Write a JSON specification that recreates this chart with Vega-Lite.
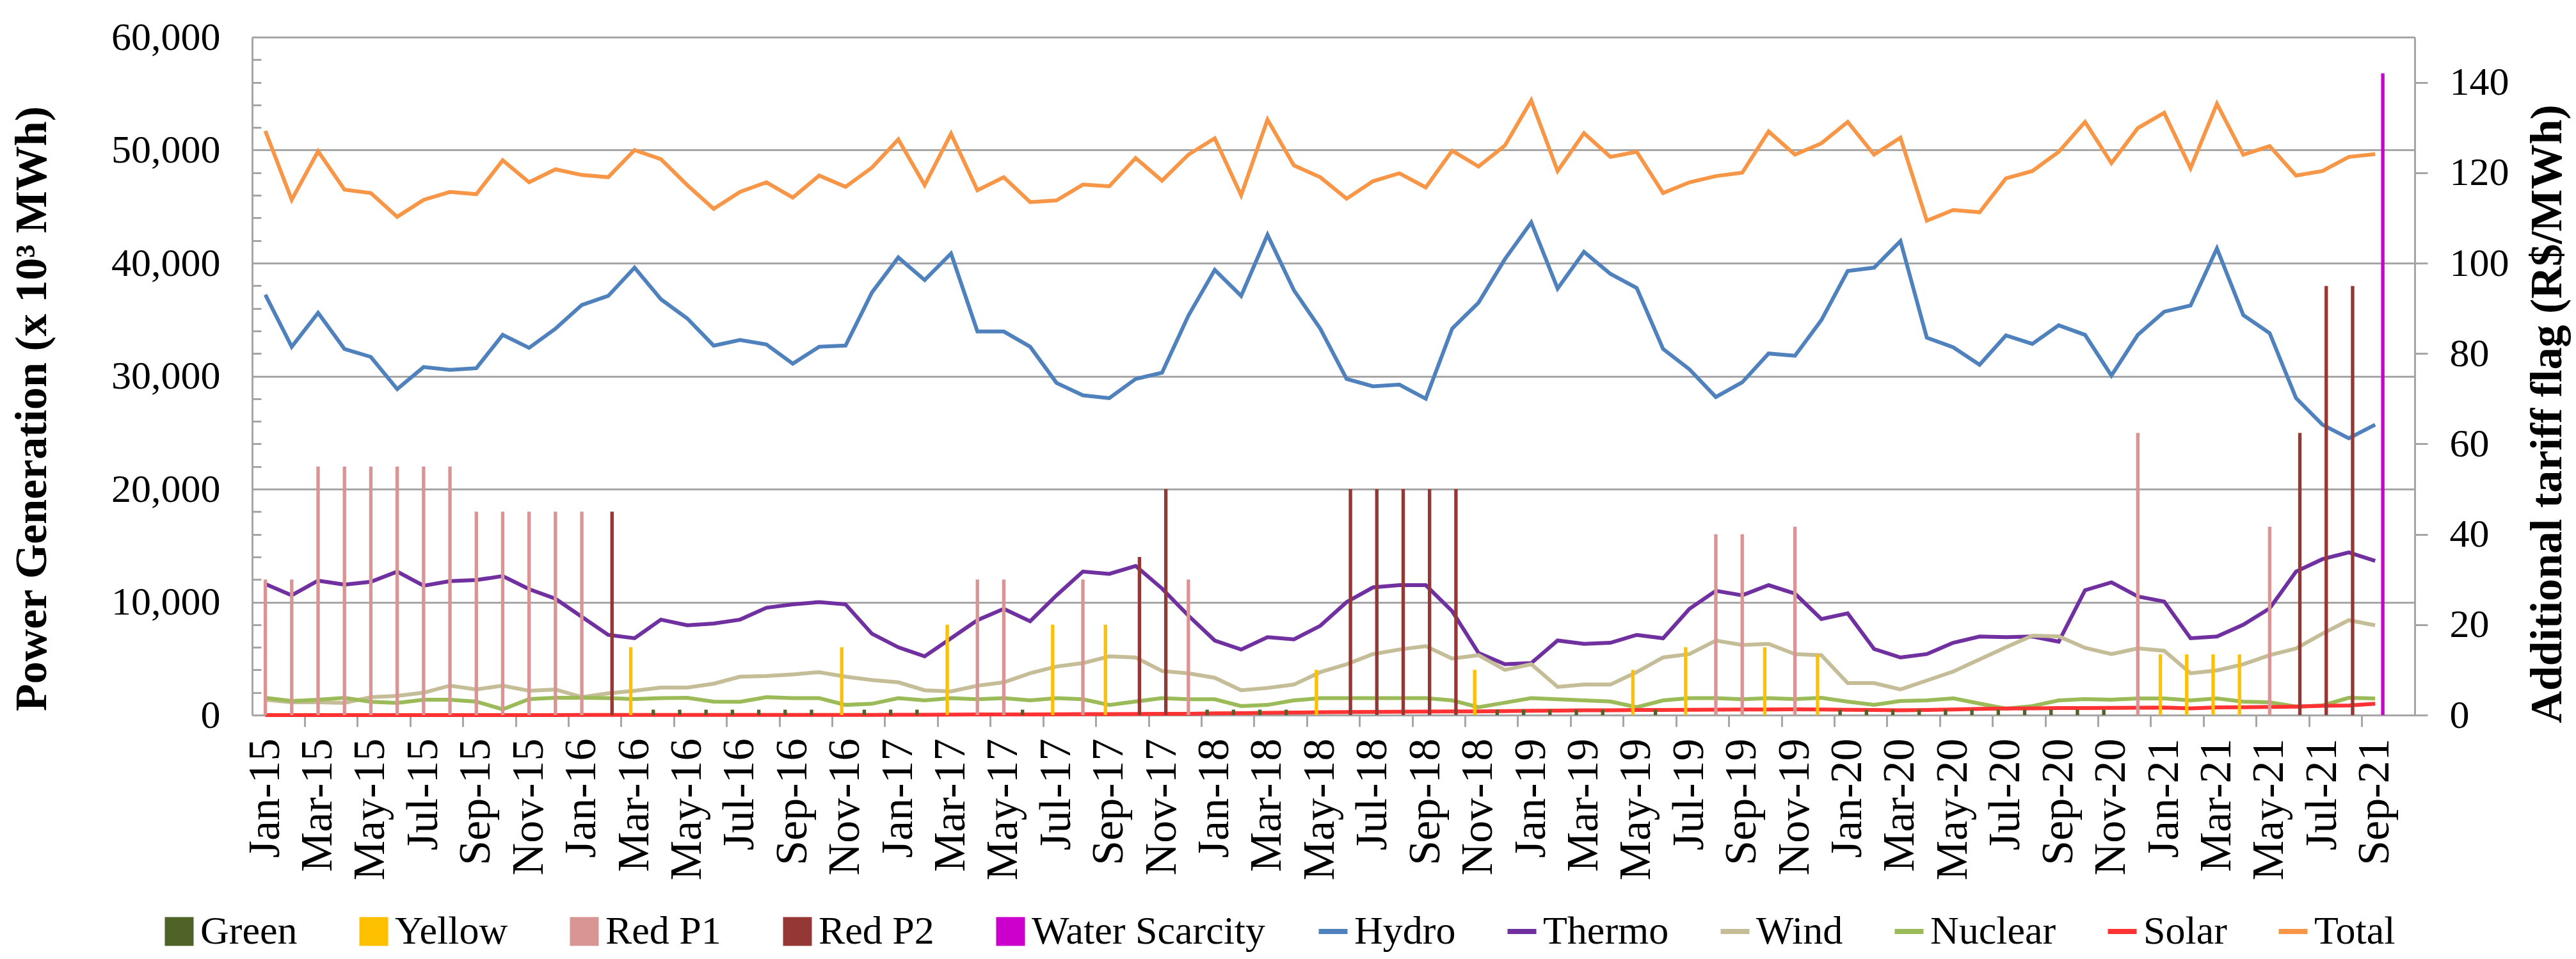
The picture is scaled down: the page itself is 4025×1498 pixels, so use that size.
{
  "$schema": "https://vega.github.io/schema/vega-lite/v6.json",
  "width": 3379,
  "height": 1059,
  "autosize": {"type": "none"},
  "padding": {"left": 394, "top": 58, "right": 252, "bottom": 381},
  "background": "white",
  "config": {
    "font": "Liberation Serif",
    "view": {"stroke": null},
    "axis": {"labelColor": "black", "titleColor": "black", "labelFont": "Liberation Serif", "titleFont": "Liberation Serif", "labelBound": false, "labelOverlap": false},
    "legend": {"labelFont": "Liberation Serif", "labelColor": "black"}
  },
  "datasets": {
    "m": [
      {"month": "Jan-15", "Hydro": 37200, "Thermo": 11600, "Wind": 1360, "Nuclear": 1530, "Solar": 5, "Total": 51700, "flag": "Red P1", "tariff": 30},
      {"month": "Feb-15", "Hydro": 32600, "Thermo": 10600, "Wind": 1130, "Nuclear": 1250, "Solar": 5, "Total": 45600, "flag": "Red P1", "tariff": 30},
      {"month": "Mar-15", "Hydro": 35600, "Thermo": 11900, "Wind": 1130, "Nuclear": 1360, "Solar": 5, "Total": 49900, "flag": "Red P1", "tariff": 55},
      {"month": "Apr-15", "Hydro": 32400, "Thermo": 11550, "Wind": 1080, "Nuclear": 1530, "Solar": 5, "Total": 46500, "flag": "Red P1", "tariff": 55},
      {"month": "May-15", "Hydro": 31700, "Thermo": 11800, "Wind": 1590, "Nuclear": 1180, "Solar": 5, "Total": 46200, "flag": "Red P1", "tariff": 55},
      {"month": "Jun-15", "Hydro": 28850, "Thermo": 12700, "Wind": 1700, "Nuclear": 1080, "Solar": 5, "Total": 44100, "flag": "Red P1", "tariff": 55},
      {"month": "Jul-15", "Hydro": 30800, "Thermo": 11450, "Wind": 1980, "Nuclear": 1360, "Solar": 5, "Total": 45600, "flag": "Red P1", "tariff": 55},
      {"month": "Aug-15", "Hydro": 30550, "Thermo": 11850, "Wind": 2610, "Nuclear": 1360, "Solar": 5, "Total": 46300, "flag": "Red P1", "tariff": 55},
      {"month": "Sep-15", "Hydro": 30700, "Thermo": 11950, "Wind": 2270, "Nuclear": 1190, "Solar": 5, "Total": 46100, "flag": "Red P1", "tariff": 45},
      {"month": "Oct-15", "Hydro": 33650, "Thermo": 12300, "Wind": 2610, "Nuclear": 510, "Solar": 5, "Total": 49100, "flag": "Red P1", "tariff": 45},
      {"month": "Nov-15", "Hydro": 32500, "Thermo": 11150, "Wind": 2150, "Nuclear": 1420, "Solar": 5, "Total": 47150, "flag": "Red P1", "tariff": 45},
      {"month": "Dec-15", "Hydro": 34200, "Thermo": 10300, "Wind": 2270, "Nuclear": 1530, "Solar": 5, "Total": 48300, "flag": "Red P1", "tariff": 45},
      {"month": "Jan-16", "Hydro": 36300, "Thermo": 8700, "Wind": 1590, "Nuclear": 1530, "Solar": 10, "Total": 47800, "flag": "Red P1", "tariff": 45},
      {"month": "Feb-16", "Hydro": 37100, "Thermo": 7100, "Wind": 1930, "Nuclear": 1500, "Solar": 10, "Total": 47600, "flag": "Red P2", "tariff": 45},
      {"month": "Mar-16", "Hydro": 39600, "Thermo": 6800, "Wind": 2150, "Nuclear": 1420, "Solar": 10, "Total": 50000, "flag": "Yellow", "tariff": 15},
      {"month": "Apr-16", "Hydro": 36800, "Thermo": 8450, "Wind": 2440, "Nuclear": 1500, "Solar": 10, "Total": 49200, "flag": "Green", "tariff": 1.2},
      {"month": "May-16", "Hydro": 35100, "Thermo": 7950, "Wind": 2440, "Nuclear": 1530, "Solar": 10, "Total": 46900, "flag": "Green", "tariff": 1.2},
      {"month": "Jun-16", "Hydro": 32700, "Thermo": 8100, "Wind": 2780, "Nuclear": 1190, "Solar": 15, "Total": 44800, "flag": "Green", "tariff": 1.2},
      {"month": "Jul-16", "Hydro": 33200, "Thermo": 8450, "Wind": 3400, "Nuclear": 1180, "Solar": 15, "Total": 46300, "flag": "Green", "tariff": 1.2},
      {"month": "Aug-16", "Hydro": 32800, "Thermo": 9500, "Wind": 3450, "Nuclear": 1590, "Solar": 15, "Total": 47150, "flag": "Green", "tariff": 1.2},
      {"month": "Sep-16", "Hydro": 31100, "Thermo": 9800, "Wind": 3600, "Nuclear": 1500, "Solar": 15, "Total": 45800, "flag": "Green", "tariff": 1.2},
      {"month": "Oct-16", "Hydro": 32600, "Thermo": 10000, "Wind": 3800, "Nuclear": 1500, "Solar": 20, "Total": 47750, "flag": "Green", "tariff": 1.2},
      {"month": "Nov-16", "Hydro": 32700, "Thermo": 9800, "Wind": 3400, "Nuclear": 900, "Solar": 20, "Total": 46750, "flag": "Yellow", "tariff": 15},
      {"month": "Dec-16", "Hydro": 37400, "Thermo": 7200, "Wind": 3100, "Nuclear": 1000, "Solar": 20, "Total": 48450, "flag": "Green", "tariff": 1.2},
      {"month": "Jan-17", "Hydro": 40500, "Thermo": 6000, "Wind": 2900, "Nuclear": 1500, "Solar": 30, "Total": 50950, "flag": "Green", "tariff": 1.2},
      {"month": "Feb-17", "Hydro": 38500, "Thermo": 5200, "Wind": 2200, "Nuclear": 1300, "Solar": 35, "Total": 46900, "flag": "Green", "tariff": 1.2},
      {"month": "Mar-17", "Hydro": 40850, "Thermo": 6800, "Wind": 2100, "Nuclear": 1500, "Solar": 40, "Total": 51450, "flag": "Yellow", "tariff": 20},
      {"month": "Apr-17", "Hydro": 33950, "Thermo": 8400, "Wind": 2600, "Nuclear": 1400, "Solar": 50, "Total": 46450, "flag": "Red P1", "tariff": 30},
      {"month": "May-17", "Hydro": 33950, "Thermo": 9400, "Wind": 2900, "Nuclear": 1500, "Solar": 50, "Total": 47600, "flag": "Red P1", "tariff": 30},
      {"month": "Jun-17", "Hydro": 32600, "Thermo": 8300, "Wind": 3700, "Nuclear": 1300, "Solar": 60, "Total": 45400, "flag": "Green", "tariff": 1.2},
      {"month": "Jul-17", "Hydro": 29400, "Thermo": 10600, "Wind": 4300, "Nuclear": 1500, "Solar": 70, "Total": 45550, "flag": "Yellow", "tariff": 20},
      {"month": "Aug-17", "Hydro": 28300, "Thermo": 12700, "Wind": 4600, "Nuclear": 1400, "Solar": 80, "Total": 46950, "flag": "Red P1", "tariff": 30},
      {"month": "Sep-17", "Hydro": 28050, "Thermo": 12500, "Wind": 5200, "Nuclear": 900, "Solar": 90, "Total": 46800, "flag": "Yellow", "tariff": 20},
      {"month": "Oct-17", "Hydro": 29750, "Thermo": 13200, "Wind": 5100, "Nuclear": 1200, "Solar": 100, "Total": 49300, "flag": "Red P2", "tariff": 35},
      {"month": "Nov-17", "Hydro": 30300, "Thermo": 11200, "Wind": 3900, "Nuclear": 1500, "Solar": 110, "Total": 47300, "flag": "Red P2", "tariff": 50},
      {"month": "Dec-17", "Hydro": 35350, "Thermo": 8800, "Wind": 3700, "Nuclear": 1400, "Solar": 120, "Total": 49600, "flag": "Red P1", "tariff": 30},
      {"month": "Jan-18", "Hydro": 39400, "Thermo": 6600, "Wind": 3300, "Nuclear": 1400, "Solar": 150, "Total": 51050, "flag": "Green", "tariff": 1.2},
      {"month": "Feb-18", "Hydro": 37100, "Thermo": 5800, "Wind": 2200, "Nuclear": 800, "Solar": 170, "Total": 46000, "flag": "Green", "tariff": 1.2},
      {"month": "Mar-18", "Hydro": 42500, "Thermo": 6900, "Wind": 2400, "Nuclear": 900, "Solar": 200, "Total": 52700, "flag": "Green", "tariff": 1.2},
      {"month": "Apr-18", "Hydro": 37600, "Thermo": 6700, "Wind": 2700, "Nuclear": 1300, "Solar": 220, "Total": 48650, "flag": "Green", "tariff": 1.2},
      {"month": "May-18", "Hydro": 34200, "Thermo": 7900, "Wind": 3800, "Nuclear": 1500, "Solar": 250, "Total": 47600, "flag": "Yellow", "tariff": 10},
      {"month": "Jun-18", "Hydro": 29750, "Thermo": 10000, "Wind": 4500, "Nuclear": 1500, "Solar": 270, "Total": 45700, "flag": "Red P2", "tariff": 50},
      {"month": "Jul-18", "Hydro": 29100, "Thermo": 11300, "Wind": 5400, "Nuclear": 1500, "Solar": 290, "Total": 47250, "flag": "Red P2", "tariff": 50},
      {"month": "Aug-18", "Hydro": 29250, "Thermo": 11500, "Wind": 5800, "Nuclear": 1500, "Solar": 300, "Total": 47950, "flag": "Red P2", "tariff": 50},
      {"month": "Sep-18", "Hydro": 28000, "Thermo": 11500, "Wind": 6100, "Nuclear": 1500, "Solar": 310, "Total": 46700, "flag": "Red P2", "tariff": 50},
      {"month": "Oct-18", "Hydro": 34200, "Thermo": 9200, "Wind": 5000, "Nuclear": 1300, "Solar": 320, "Total": 49950, "flag": "Red P2", "tariff": 50},
      {"month": "Nov-18", "Hydro": 36500, "Thermo": 5500, "Wind": 5300, "Nuclear": 700, "Solar": 330, "Total": 48550, "flag": "Yellow", "tariff": 10},
      {"month": "Dec-18", "Hydro": 40350, "Thermo": 4500, "Wind": 4000, "Nuclear": 1100, "Solar": 350, "Total": 50400, "flag": "Green", "tariff": 1.2},
      {"month": "Jan-19", "Hydro": 43600, "Thermo": 4600, "Wind": 4500, "Nuclear": 1500, "Solar": 380, "Total": 54400, "flag": "Green", "tariff": 1.2},
      {"month": "Feb-19", "Hydro": 37750, "Thermo": 6600, "Wind": 2500, "Nuclear": 1400, "Solar": 400, "Total": 48150, "flag": "Green", "tariff": 1.2},
      {"month": "Mar-19", "Hydro": 41000, "Thermo": 6300, "Wind": 2700, "Nuclear": 1300, "Solar": 420, "Total": 51500, "flag": "Green", "tariff": 1.2},
      {"month": "Apr-19", "Hydro": 39050, "Thermo": 6400, "Wind": 2700, "Nuclear": 1200, "Solar": 430, "Total": 49400, "flag": "Green", "tariff": 1.2},
      {"month": "May-19", "Hydro": 37800, "Thermo": 7100, "Wind": 3800, "Nuclear": 700, "Solar": 450, "Total": 49850, "flag": "Yellow", "tariff": 10},
      {"month": "Jun-19", "Hydro": 32400, "Thermo": 6800, "Wind": 5100, "Nuclear": 1300, "Solar": 460, "Total": 46200, "flag": "Green", "tariff": 1.2},
      {"month": "Jul-19", "Hydro": 30600, "Thermo": 9400, "Wind": 5400, "Nuclear": 1500, "Solar": 470, "Total": 47150, "flag": "Yellow", "tariff": 15},
      {"month": "Aug-19", "Hydro": 28150, "Thermo": 11000, "Wind": 6600, "Nuclear": 1500, "Solar": 480, "Total": 47700, "flag": "Red P1", "tariff": 40},
      {"month": "Sep-19", "Hydro": 29450, "Thermo": 10600, "Wind": 6200, "Nuclear": 1400, "Solar": 490, "Total": 48000, "flag": "Red P1", "tariff": 40},
      {"month": "Oct-19", "Hydro": 32000, "Thermo": 11500, "Wind": 6300, "Nuclear": 1500, "Solar": 500, "Total": 51650, "flag": "Yellow", "tariff": 15},
      {"month": "Nov-19", "Hydro": 31800, "Thermo": 10750, "Wind": 5400, "Nuclear": 1420, "Solar": 510, "Total": 49600, "flag": "Red P1", "tariff": 41.69},
      {"month": "Dec-19", "Hydro": 34950, "Thermo": 8500, "Wind": 5300, "Nuclear": 1530, "Solar": 500, "Total": 50600, "flag": "Yellow", "tariff": 13.43},
      {"month": "Jan-20", "Hydro": 39300, "Thermo": 9000, "Wind": 2830, "Nuclear": 1190, "Solar": 470, "Total": 52500, "flag": "Green", "tariff": 1.2},
      {"month": "Feb-20", "Hydro": 39600, "Thermo": 5850, "Wind": 2830, "Nuclear": 910, "Solar": 450, "Total": 49600, "flag": "Green", "tariff": 1.2},
      {"month": "Mar-20", "Hydro": 41950, "Thermo": 5100, "Wind": 2270, "Nuclear": 1250, "Solar": 420, "Total": 51100, "flag": "Green", "tariff": 1.2},
      {"month": "Apr-20", "Hydro": 33400, "Thermo": 5400, "Wind": 3060, "Nuclear": 1300, "Solar": 450, "Total": 43750, "flag": "Green", "tariff": 1.2},
      {"month": "May-20", "Hydro": 32550, "Thermo": 6400, "Wind": 3850, "Nuclear": 1480, "Solar": 500, "Total": 44700, "flag": "Green", "tariff": 1.2},
      {"month": "Jun-20", "Hydro": 31000, "Thermo": 6950, "Wind": 4930, "Nuclear": 1020, "Solar": 550, "Total": 44500, "flag": "Green", "tariff": 1.2},
      {"month": "Jul-20", "Hydro": 33600, "Thermo": 6900, "Wind": 6000, "Nuclear": 570, "Solar": 580, "Total": 47500, "flag": "Green", "tariff": 1.2},
      {"month": "Aug-20", "Hydro": 32850, "Thermo": 6950, "Wind": 7030, "Nuclear": 800, "Solar": 600, "Total": 48150, "flag": "Green", "tariff": 1.2},
      {"month": "Sep-20", "Hydro": 34500, "Thermo": 6500, "Wind": 6970, "Nuclear": 1300, "Solar": 620, "Total": 49850, "flag": "Green", "tariff": 1.2},
      {"month": "Oct-20", "Hydro": 33650, "Thermo": 11050, "Wind": 5950, "Nuclear": 1420, "Solar": 630, "Total": 52500, "flag": "Green", "tariff": 1.2},
      {"month": "Nov-20", "Hydro": 30050, "Thermo": 11750, "Wind": 5400, "Nuclear": 1360, "Solar": 640, "Total": 48850, "flag": "Green", "tariff": 1.2},
      {"month": "Dec-20", "Hydro": 33650, "Thermo": 10500, "Wind": 5900, "Nuclear": 1470, "Solar": 650, "Total": 51950, "flag": "Red P1", "tariff": 62.43},
      {"month": "Jan-21", "Hydro": 35700, "Thermo": 10050, "Wind": 5700, "Nuclear": 1470, "Solar": 660, "Total": 53300, "flag": "Yellow", "tariff": 13.43},
      {"month": "Feb-21", "Hydro": 36250, "Thermo": 6800, "Wind": 3700, "Nuclear": 1300, "Solar": 600, "Total": 48400, "flag": "Yellow", "tariff": 13.43},
      {"month": "Mar-21", "Hydro": 41300, "Thermo": 6950, "Wind": 3950, "Nuclear": 1470, "Solar": 680, "Total": 54100, "flag": "Yellow", "tariff": 13.43},
      {"month": "Apr-21", "Hydro": 35400, "Thermo": 8000, "Wind": 4500, "Nuclear": 1190, "Solar": 700, "Total": 49600, "flag": "Yellow", "tariff": 13.43},
      {"month": "May-21", "Hydro": 33800, "Thermo": 9450, "Wind": 5300, "Nuclear": 1130, "Solar": 720, "Total": 50350, "flag": "Red P1", "tariff": 41.69},
      {"month": "Jun-21", "Hydro": 28050, "Thermo": 12700, "Wind": 5900, "Nuclear": 750, "Solar": 750, "Total": 47750, "flag": "Red P2", "tariff": 62.43},
      {"month": "Jul-21", "Hydro": 25700, "Thermo": 13800, "Wind": 7200, "Nuclear": 850, "Solar": 820, "Total": 48150, "flag": "Red P2", "tariff": 94.92},
      {"month": "Aug-21", "Hydro": 24500, "Thermo": 14400, "Wind": 8400, "Nuclear": 1530, "Solar": 850, "Total": 49400, "flag": "Red P2", "tariff": 94.92},
      {"month": "Sep-21", "Hydro": 25700, "Thermo": 13650, "Wind": 7950, "Nuclear": 1470, "Solar": 1000, "Total": 49650, "flag": "Water Scarcity", "tariff": 142}
    ]
  },
  "layer": [
    {
      "data": {"name": "m"},
      "transform": [{"fold": ["Hydro", "Thermo", "Wind", "Nuclear", "Solar", "Total"], "as": ["source", "gen"]}],
      "mark": {"type": "line", "strokeWidth": 6},
      "encoding": {
        "x": {
          "field": "month", "type": "nominal", "sort": null,
          "scale": {"type": "band", "paddingInner": 0, "paddingOuter": 0,
            "domain": ["Jan-15","Feb-15","Mar-15","Apr-15","May-15","Jun-15","Jul-15","Aug-15","Sep-15","Oct-15","Nov-15","Dec-15","Jan-16","Feb-16","Mar-16","Apr-16","May-16","Jun-16","Jul-16","Aug-16","Sep-16","Oct-16","Nov-16","Dec-16","Jan-17","Feb-17","Mar-17","Apr-17","May-17","Jun-17","Jul-17","Aug-17","Sep-17","Oct-17","Nov-17","Dec-17","Jan-18","Feb-18","Mar-18","Apr-18","May-18","Jun-18","Jul-18","Aug-18","Sep-18","Oct-18","Nov-18","Dec-18","Jan-19","Feb-19","Mar-19","Apr-19","May-19","Jun-19","Jul-19","Aug-19","Sep-19","Oct-19","Nov-19","Dec-19","Jan-20","Feb-20","Mar-20","Apr-20","May-20","Jun-20","Jul-20","Aug-20","Sep-20","Oct-20","Nov-20","Dec-20","Jan-21","Feb-21","Mar-21","Apr-21","May-21","Jun-21","Jul-21","Aug-21","Sep-21","Oct-21"]},
          "axis": {
            "orient": "bottom",
            "title": null,
            "labelExpr": "test(/^(Jan|Mar|May|Jul|Sep|Nov)/, datum.value) ? datum.value : ''",
            "ticks": false,
            "domain": false,
            "labelAngle": 270,
            "labelFontSize": 70,
            "labelPadding": 36,
            "labelLimit": 1000,
            "labelOverlap": false,
            "labelBound": false,
            "labelFlush": false,
            "labelSeparation": 0,
            "grid": false
          }
        },
        "y": {
          "field": "gen", "type": "quantitative",
          "scale": {"domain": [0, 60000], "nice": false},
          "axis": {
            "orient": "left",
            "values": [0,2000,4000,6000,8000,10000,12000,14000,16000,18000,20000,22000,24000,26000,28000,30000,32000,34000,36000,38000,40000,42000,44000,46000,48000,50000,52000,54000,56000,58000,60000],
            "labelExpr": "datum.value % 10000 === 0 ? format(datum.value, ',') : ''",
            "grid": true,
            "gridColor": "#A6A6A6",
            "gridWidth": 3,
            "gridOpacity": {"condition": {"test": "datum.value % 10000 === 0", "value": 1}, "value": 0},
            "tickSize": -14,
            "tickWidth": 3,
            "tickColor": "#A6A6A6",
            "domainColor": "#A6A6A6",
            "domainWidth": 3,
            "labelFontSize": 62,
            "labelPadding": 64,
            "title": "Power Generation (x 10³ MWh)",
            "titleFontSize": 70,
            "titleFontWeight": "bold",
            "titleAngle": 270,
            "titleX": -344,
            "titleY": 580,
            "titleAlign": "center",
            "titleBaseline": "middle"
          }
        },
        "color": {
          "field": "source", "type": "nominal",
          "scale": {"domain": ["Hydro", "Thermo", "Wind", "Nuclear", "Solar", "Total"], "range": ["#4F81BD", "#7030A0", "#C4BD97", "#9BBB59", "#FF3333", "#F79646"]},
          "legend": {"orient": "none", "legendX": 1658, "legendY": 1366, "direction": "horizontal", "title": null, "labelFontSize": 62, "labelLimit": 1000, "symbolType": "stroke", "symbolSize": 2025, "symbolStrokeWidth": 8, "labelOffset": 2, "columnPadding": 64}
        }
      }
    },
    {
      "data": {"name": "m"},
      "mark": {"type": "bar"},
      "encoding": {
        "x": {
          "field": "month", "type": "nominal", "sort": null,
          "axis": {
            "orient": "bottom",
            "title": null,
            "values": ["Jan-15","Mar-15","May-15","Jul-15","Sep-15","Nov-15","Jan-16","Mar-16","May-16","Jul-16","Sep-16","Nov-16","Jan-17","Mar-17","May-17","Jul-17","Sep-17","Nov-17","Jan-18","Mar-18","May-18","Jul-18","Sep-18","Nov-18","Jan-19","Mar-19","May-19","Jul-19","Sep-19","Nov-19","Jan-20","Mar-20","May-20","Jul-20","Sep-20","Nov-20","Jan-21","Mar-21","May-21","Jul-21","Sep-21"],
            "bandPosition": 0,
            "labels": false,
            "tickSize": 18,
            "tickWidth": 3,
            "tickColor": "#A6A6A6",
            "domainColor": "#A6A6A6",
            "domainWidth": 3,
            "grid": false
          }
        },
        "xOffset": {"field": "flag", "type": "nominal", "scale": {"domain": ["Green", "Yellow", "Red P1", "Red P2", "Water Scarcity"], "paddingInner": 0.1, "paddingOuter": 1.1}},
        "y": {
          "field": "tariff", "type": "quantitative",
          "scale": {"domain": [0, 150], "nice": false},
          "axis": {
            "orient": "right",
            "values": [0, 20, 40, 60, 80, 100, 120, 140],
            "grid": false,
            "tickSize": 20,
            "tickWidth": 3,
            "tickColor": "#A6A6A6",
            "domainColor": "#A6A6A6",
            "domainWidth": 3,
            "labelFontSize": 62,
            "labelPadding": 34,
            "title": "Additional tariff flag (R$/MWh)",
            "titleFontSize": 70,
            "titleFontWeight": "bold",
            "titleAngle": 270,
            "titleX": 207,
            "titleY": 588,
            "titleAlign": "center",
            "titleBaseline": "middle"
          }
        },
        "color": {
          "field": "flag", "type": "nominal",
          "scale": {"domain": ["Green", "Yellow", "Red P1", "Red P2", "Water Scarcity"], "range": ["#4F6228", "#FFC000", "#D99594", "#953735", "#CC00CC"]},
          "legend": {"orient": "none", "legendX": -145, "legendY": 1366, "direction": "horizontal", "title": null, "labelFontSize": 62, "labelLimit": 1000, "symbolType": "square", "symbolSize": 2025, "symbolStrokeWidth": 0, "labelOffset": 2, "columnPadding": 88}
        }
      }
    }
  ],
  "resolve": {"scale": {"y": "independent", "color": "independent"}, "axis": {"x": "independent"}}
}
